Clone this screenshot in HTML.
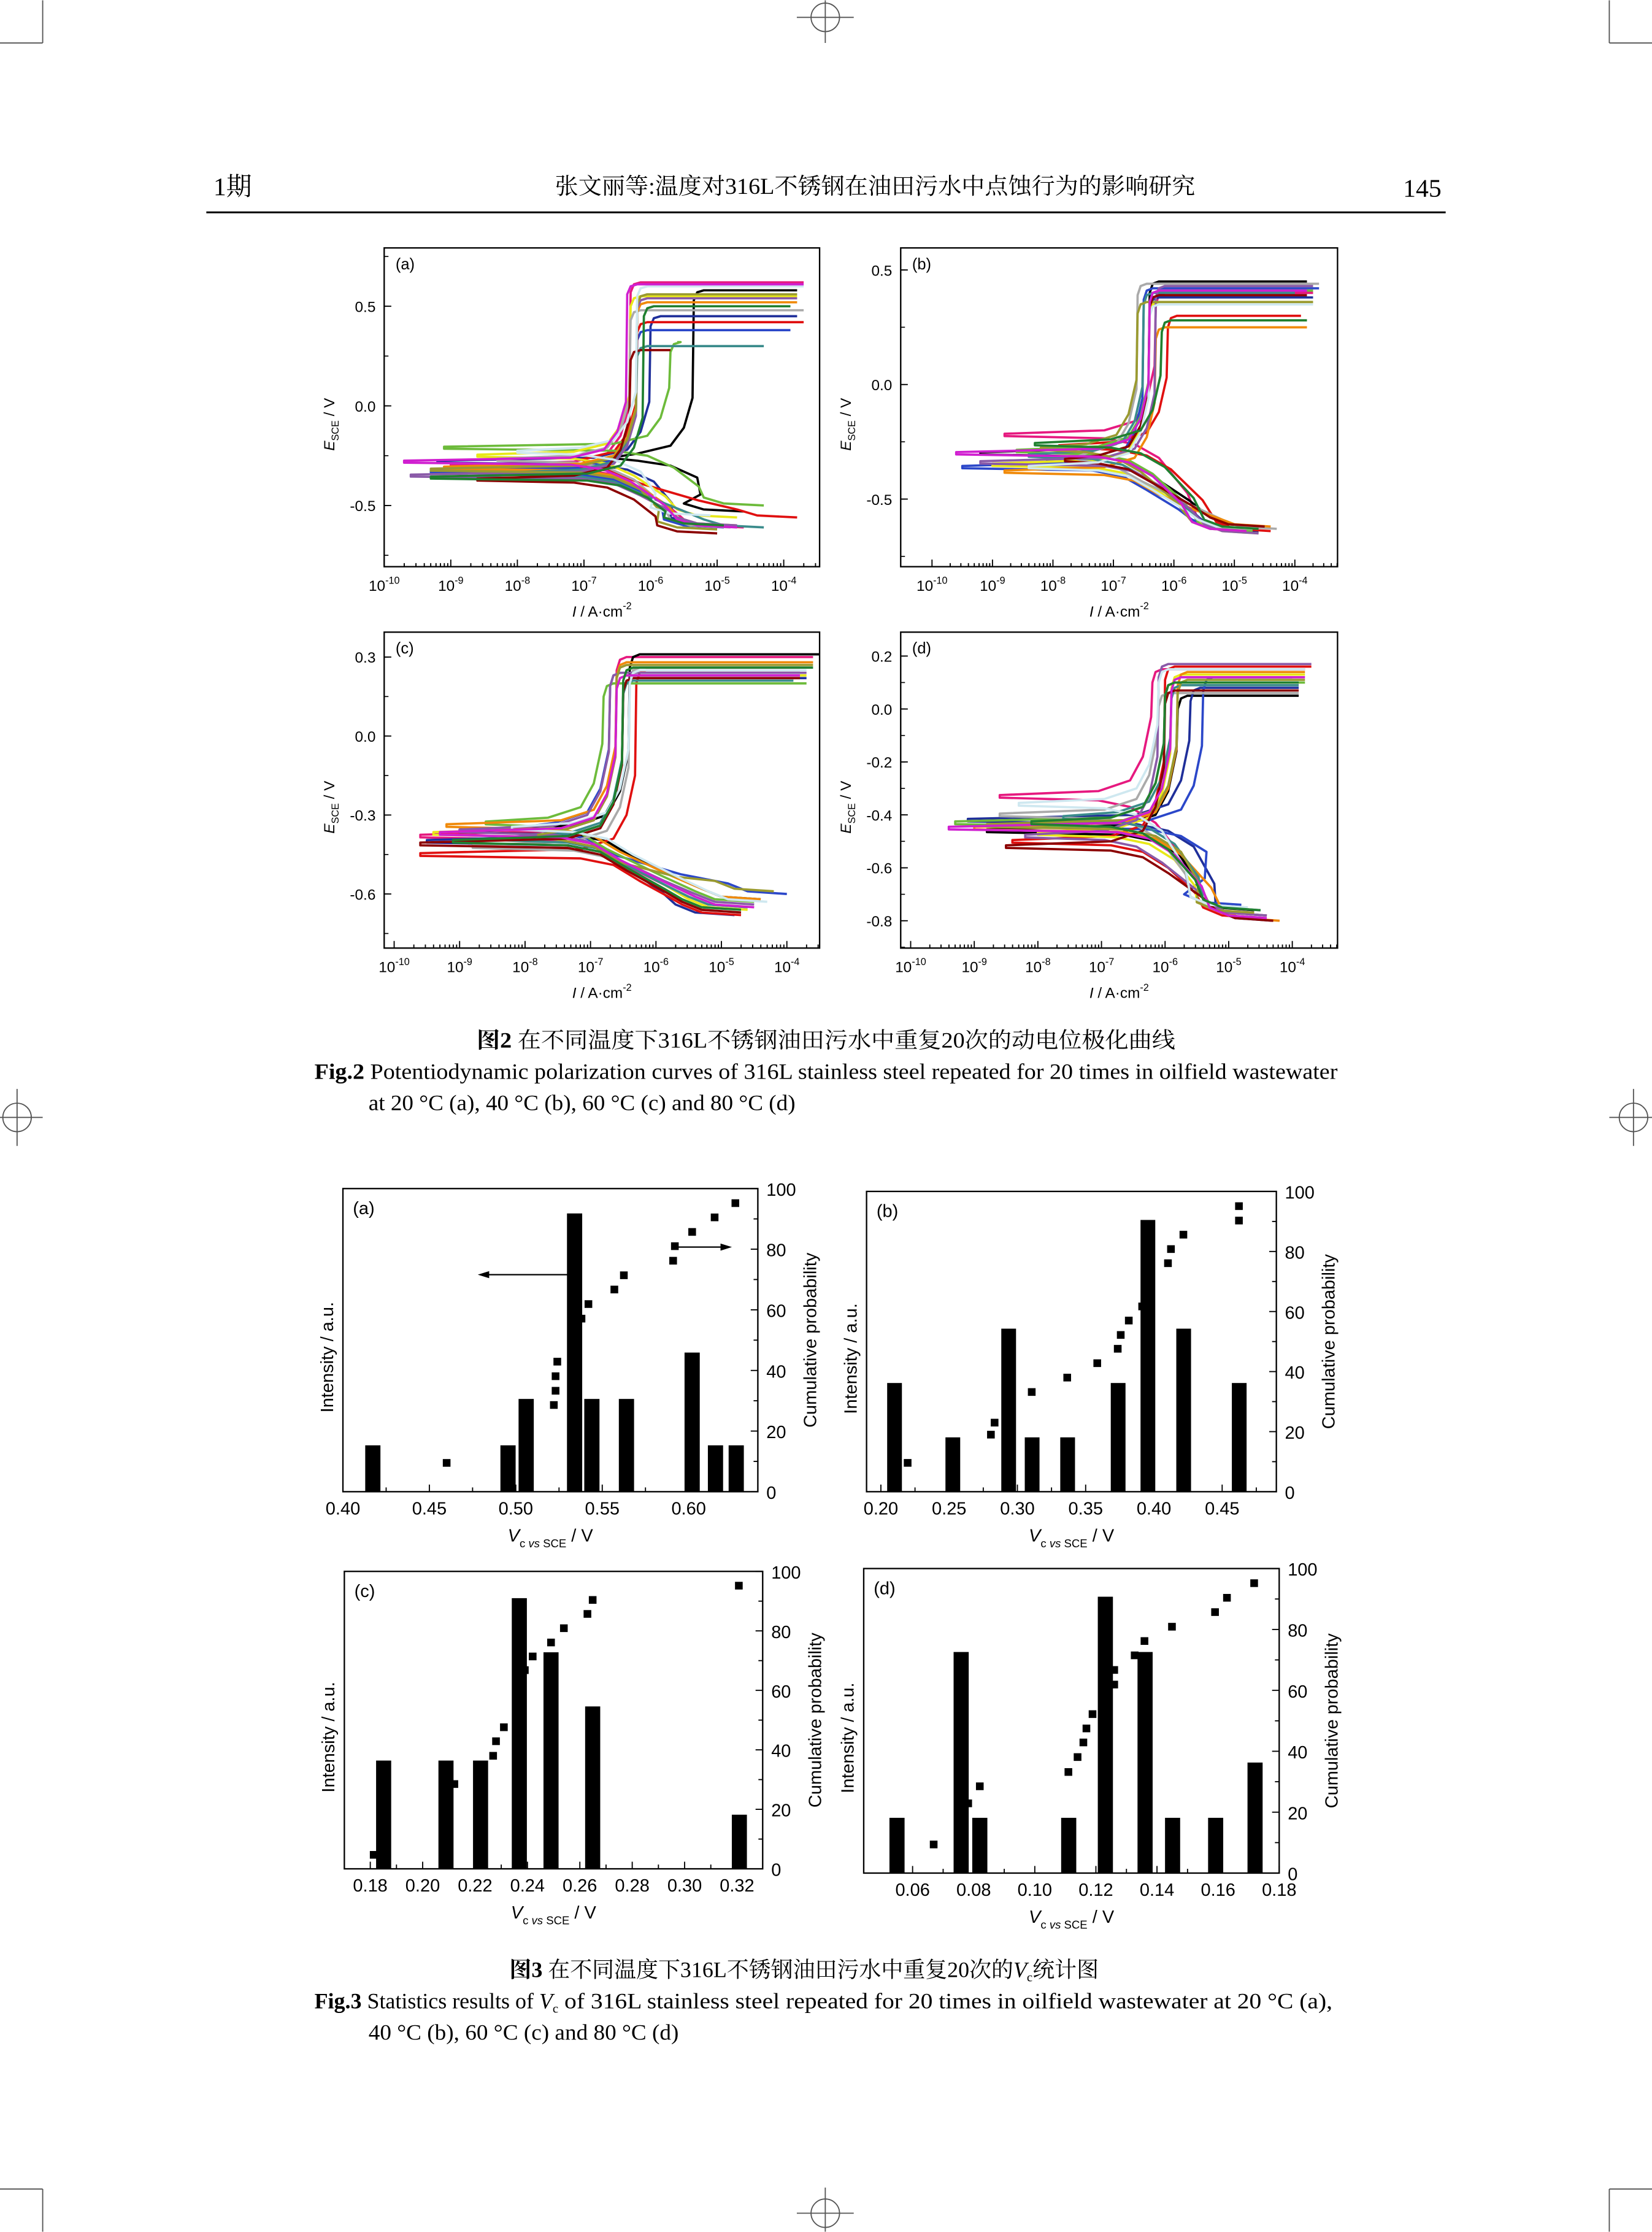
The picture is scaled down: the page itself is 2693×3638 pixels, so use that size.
<!DOCTYPE html>
<html><head><meta charset="utf-8"><style>
html,body{margin:0;padding:0;background:#fff}
svg{display:block}
.s{font-family:"Liberation Sans",sans-serif}
.r{font-family:"Liberation Serif","Noto Serif CJK SC",serif}
</style></head><body>
<svg id="pg" xmlns="http://www.w3.org/2000/svg" width="2693" height="3638" viewBox="0 0 1161 1568">
<g id="marks" stroke="#555" stroke-width="0.8" fill="none">
<line x1="30" y1="0" x2="30" y2="30"/><line x1="0" y1="30" x2="30" y2="30"/>
<line x1="1131" y1="0" x2="1131" y2="30"/><line x1="1131" y1="30" x2="1161" y2="30"/>
<line x1="30" y1="1538" x2="30" y2="1568"/><line x1="0" y1="1538" x2="30" y2="1538"/>
<line x1="1131" y1="1538" x2="1131" y2="1568"/><line x1="1131" y1="1538" x2="1161" y2="1538"/>
<circle cx="580" cy="12" r="10"/><line x1="560" y1="12" x2="600" y2="12"/><line x1="580" y1="0" x2="580" y2="30"/>
<circle cx="580" cy="1555" r="10"/><line x1="560" y1="1555" x2="600" y2="1555"/><line x1="580" y1="1537" x2="580" y2="1568"/>
<circle cx="12" cy="785" r="10"/><line x1="0" y1="785" x2="30" y2="785"/><line x1="12" y1="765" x2="12" y2="805"/>
<circle cx="1148" cy="785" r="10"/><line x1="1131" y1="785" x2="1161" y2="785"/><line x1="1148" y1="765" x2="1148" y2="805"/>
</g>
<text class="r" x="150" y="137" font-size="18">1期</text>
<text class="r" x="390" y="136" font-size="16" textLength="450" lengthAdjust="spacingAndGlyphs">张文丽等:温度对316L不锈钢在油田污水中点蚀行为的影响研究</text>
<text class="r" x="1013" y="138" font-size="18" text-anchor="end">145</text>
<line x1="145" y1="149" x2="1016" y2="149" stroke="#000" stroke-width="1.3"/>
<g id="fig2"></g>
<g id="fig3"></g>
<text class="r" x="335" y="736" font-size="15.5" textLength="491" lengthAdjust="spacingAndGlyphs"><tspan font-weight="bold">图2</tspan> 在不同温度下316L不锈钢油田污水中重复20次的动电位极化曲线</text>
<text class="r" x="221" y="758" font-size="15.5" textLength="719" lengthAdjust="spacingAndGlyphs"><tspan font-weight="bold">Fig.2</tspan> Potentiodynamic polarization curves of 316L stainless steel repeated for 20 times in oilfield wastewater</text>
<text class="r" x="259" y="780" font-size="15.5" textLength="300" lengthAdjust="spacingAndGlyphs">at 20 °C (a), 40 °C (b), 60 °C (c) and 80 °C (d)</text>
<text class="r" x="358" y="1389" font-size="15.5"><tspan font-weight="bold">图3</tspan> 在不同温度下316L不锈钢油田污水中重复20次的<tspan font-style="italic">V</tspan><tspan font-size="9" dy="3">c</tspan><tspan dy="-3">统计图</tspan></text>
<text class="r" x="221" y="1411" font-size="15.5"><tspan font-weight="bold">Fig.3</tspan> Statistics results of <tspan font-style="italic">V</tspan><tspan font-size="9" dy="3">c</tspan><tspan dy="-3" textLength="544" lengthAdjust="spacingAndGlyphs"> of 316L stainless steel repeated for 20 times in oilfield wastewater at 20 °C (a),</tspan></text>
<text class="r" x="259" y="1433" font-size="15.5" textLength="218" lengthAdjust="spacingAndGlyphs">40 °C (b), 60 °C (c) and 80 °C (d)</text>
</svg>
<script>
// ===== Figure 2 data (per-curve parameters) =====
const colors=["#e6197f","#000000","#1f2f9a","#2b47c9","#e01010","#6dbb3b","#e8e81a","#aaaaaa","#f08a0a","#3b8c8c","#8a5aa8","#9a9a30","#8b0000","#cfe8f0","#d01fd0","#208030"];
const aEcorr=[-0.30,-0.26,-0.28,-0.33,-0.29,-0.21,-0.25,-0.27,-0.31,-0.34,-0.35,-0.32,-0.37,-0.23,-0.28,-0.36];
const aEpit=[0.62,0.58,0.45,0.38,0.42,0.32,0.55,0.48,0.52,0.30,0.54,0.56,0.28,0.60,0.61,0.50];
const aIpass=[-6.3,-5.35,-6.0,-6.2,-6.2,-5.7,-6.3,-6.3,-6.2,-6.2,-6.2,-6.2,-6.3,-6.2,-6.35,-6.1];
const aImax=[-3.7,-3.8,-3.8,-3.9,-3.7,-5.6,-3.8,-3.7,-3.8,-4.3,-3.8,-3.8,-5.7,-3.7,-3.7,-3.9];
const aImin=[-9.0,-6.5,-9.2,-9.3,-6.9,-9.1,-8.6,-8.3,-9.1,-8.2,-9.6,-9.3,-8.6,-8.0,-9.7,-9.3];
const aEmin=[-0.61,-0.53,-0.60,-0.61,-0.56,-0.50,-0.56,-0.61,-0.60,-0.61,-0.60,-0.62,-0.64,-0.55,-0.61,-0.60];
const aIlim=[-5.2,-5.2,-5.4,-5.5,-4.4,-4.9,-5.3,-5.4,-5.3,-4.9,-5.3,-5.6,-5.6,-5.7,-5.3,-5.5];
const bEcorr=[-0.22,-0.30,-0.33,-0.36,-0.27,-0.29,-0.35,-0.32,-0.38,-0.31,-0.34,-0.28,-0.33,-0.36,-0.30,-0.26];
const bEpit=[0.40,0.45,0.38,0.42,0.30,0.41,0.36,0.44,0.25,0.40,0.43,0.36,0.39,0.35,0.41,0.28];
const bIpass=[-6.3,-6.4,-6.4,-6.5,-6.1,-6.4,-6.4,-6.6,-6.3,-6.5,-6.3,-6.6,-6.4,-6.4,-6.4,-6.2];
const bImax=[-3.7,-3.8,-3.7,-3.6,-3.9,-3.7,-3.7,-3.6,-3.8,-4.0,-3.7,-3.7,-3.8,-3.7,-3.8,-3.8];
const bImin=[-8.8,-9.2,-8.1,-9.5,-7.9,-8.6,-9.0,-7.6,-8.8,-8.4,-9.2,-8.2,-7.8,-8.4,-9.6,-8.3];
const bEmin=[-0.63,-0.62,-0.64,-0.63,-0.64,-0.64,-0.65,-0.63,-0.62,-0.63,-0.65,-0.64,-0.62,-0.63,-0.64,-0.63];
const bIlim=[-5.3,-5.1,-5.2,-5.4,-5.0,-5.3,-5.2,-4.9,-5.0,-5.3,-5.2,-5.4,-5.1,-5.3,-5.4,-5.2];
const cEcorr=[-0.38,-0.36,-0.40,-0.35,-0.45,-0.33,-0.37,-0.42,-0.34,-0.39,-0.36,-0.38,-0.41,-0.35,-0.37,-0.40];
const cEpit=[0.30,0.31,0.22,0.24,0.25,0.20,0.23,0.26,0.28,0.21,0.24,0.27,0.22,0.25,0.23,0.26];
const cIpass=[-6.6,-6.4,-6.5,-6.7,-6.3,-6.8,-6.6,-6.4,-6.6,-6.5,-6.7,-6.6,-6.5,-6.4,-6.6,-6.5];
const cImax=[-3.6,-3.5,-3.7,-3.8,-3.8,-3.7,-3.7,-3.8,-3.6,-3.9,-3.7,-3.6,-3.8,-3.7,-3.8,-3.6];
const cImin=[-9.6,-9.0,-9.5,-8.0,-9.6,-8.6,-9.4,-8.8,-9.2,-8.4,-9.0,-7.8,-9.6,-8.2,-9.3,-9.1];
const cEmin=[-0.65,-0.62,-0.68,-0.60,-0.68,-0.63,-0.66,-0.67,-0.62,-0.65,-0.64,-0.59,-0.67,-0.63,-0.65,-0.66];
const cIlim=[-5.2,-5.0,-5.4,-4.6,-5.3,-5.1,-5.2,-5.3,-5.0,-5.2,-5.1,-4.8,-5.3,-4.9,-5.1,-5.3];
const dEcorr=[-0.33,-0.46,-0.42,-0.44,-0.50,-0.43,-0.47,-0.40,-0.45,-0.41,-0.48,-0.44,-0.52,-0.36,-0.45,-0.43];
const dEpit=[0.15,0.05,0.08,0.12,0.16,0.10,0.13,0.06,0.14,0.09,0.17,0.11,0.07,0.15,0.12,0.10];
const dIpass=[-6.2,-5.8,-5.6,-5.4,-6.0,-6.0,-5.9,-6.1,-5.8,-5.9,-6.1,-5.8,-6.0,-6.1,-5.9,-6.0];
const dImax=[-3.8,-3.9,-3.9,-4.0,-3.7,-3.8,-3.8,-3.9,-3.8,-3.9,-3.7,-3.8,-3.9,-3.8,-3.8,-3.9];
const dImin=[-8.6,-8.8,-9.1,-7.8,-8.4,-9.3,-8.0,-8.6,-9.0,-7.6,-8.2,-8.8,-8.5,-8.3,-9.4,-8.1];
const dEmin=[-0.78,-0.76,-0.80,-0.74,-0.79,-0.78,-0.77,-0.75,-0.80,-0.76,-0.78,-0.77,-0.80,-0.75,-0.79,-0.76];
const dIlim=[-5.0,-5.2,-4.9,-5.4,-5.1,-5.0,-5.2,-5.3,-4.8,-5.1,-5.0,-5.2,-4.9,-5.3,-5.0,-5.1];
const xTickExp=[-10,-9,-8,-7,-6,-5,-4];
// ===== Figure 3 data =====
const aBarV=[0.4173,0.4955,0.506,0.534,0.544,0.564,0.602,0.6155,0.6275];
const aBarN=[1,1,2,6,2,2,3,1,1];
const aPtV=[0.460,0.522,0.523,0.523,0.524,0.538,0.542,0.557,0.5625,0.591,0.592,0.602,0.615,0.627];
const aPtP=[9.5,28.6,33.3,38.1,42.9,57.1,61.9,66.7,71.4,76.2,81.0,85.7,90.5,95.2];
const bBarV=[0.210,0.2527,0.2936,0.3108,0.3368,0.3738,0.3956,0.4218,0.4625];
const bBarN=[2,1,3,1,1,2,5,3,2];
const bPtV=[0.2196,0.2806,0.2833,0.3105,0.3365,0.3585,0.3735,0.3757,0.3816,0.3914,0.4103,0.4125,0.4216,0.4623,0.4623];
const bPtP=[9.6,19.0,23.0,33.2,38.0,42.8,47.6,52.2,57.0,61.7,76.1,80.8,85.6,90.3,95.1];
const cBarV=[0.1851,0.2089,0.2221,0.2369,0.2490,0.2649,0.3209];
const cBarN=[2,2,2,5,4,3,1];
const cPtV=[0.1813,0.2121,0.2269,0.2280,0.2310,0.2390,0.2420,0.2490,0.2539,0.2629,0.2649,0.3207];
const cPtP=[4.7,28.5,38.0,42.9,47.6,66.8,71.4,76.1,80.9,85.7,90.4,95.2];
const dBarV=[0.0549,0.0759,0.0820,0.1111,0.1231,0.1361,0.1451,0.1592,0.1721];
const dBarN=[1,4,1,1,5,4,1,1,2];
const dPtV=[0.0669,0.0782,0.0820,0.1110,0.1140,0.1159,0.1169,0.1189,0.1260,0.1260,0.1327,0.1359,0.1449,0.1590,0.1629,0.1718];
const dPtP=[9.4,22.9,28.5,33.2,38.1,42.9,47.5,52.2,61.9,66.7,71.5,76.2,80.9,85.7,90.4,95.2];

const NS="http://www.w3.org/2000/svg";
function mk(tag,attrs,parent){const e=document.createElementNS(NS,tag);for(const k in attrs)e.setAttribute(k,attrs[k]);if(parent)parent.appendChild(e);return e;}

const fig2=document.getElementById('fig2');
function polPanel(cfg,d){
  const g=mk('g',{},fig2);
  
  
  const X=e=>cfg.lx+(e+10)*cfg.dec;
  const Y=v=>cfg.e0-v*cfg.pv;
  const clip='clip'+cfg.tag;
  const cp=mk('clipPath',{id:clip},g);mk('rect',{x:cfg.x0,y:cfg.y0,width:cfg.x1-cfg.x0,height:cfg.y1-cfg.y0},cp);
  const cg=mk('g',{'clip-path':'url(#'+clip+')'},g);
  for(let k=0;k<d.ec.length;k++){
    const ec=d.ec[k],ep=d.ep[k],ip=d.ip[k],im=d.im[k],mn=d.mn[k],em=d.em[k],il=d.il[k];
    const ic=ip-0.35;
    const pts=[[im,ep],[ip+0.15,ep],[ip+0.05,ep-0.01],[ip,ep-0.05],[ip-0.02,ec+0.3],[ip-0.15,ec+0.15],[ic,ec+0.06],[ic-0.5,ec+0.02],[mn,ec+0.005],[mn,ec-0.005],[ic-0.5,ec-0.015],[ic,ec-0.04],[ic+0.4,ec-0.1],[(ic+il)/2+0.2,(ec+em)/2-0.05],[il-0.3,em+0.04],[il,em+0.01],[il+0.6,em]];
    const p=mk('polyline',{points:pts.map(q=>X(q[0]).toFixed(1)+','+Y(q[1]).toFixed(1)).join(' '),fill:'none',stroke:colors[k%colors.length],'stroke-width':'1.6','stroke-linejoin':'round'},cg);
    
    
  }
  const fr=mk('rect',{x:cfg.x0,y:cfg.y0,width:cfg.x1-cfg.x0,height:cfg.y1-cfg.y0,fill:'none',stroke:'#000','stroke-width':'1'},g);
  
  
  for(let e=-10;e<=-3;e++){
    for(let m=1;m<10;m++){
      const xx=X(e+Math.log10(m));
      if(xx<cfg.x0-0.5||xx>cfg.x1)continue;
      const len=m===1?5:2.5;
      mk('line',{x1:xx,y1:cfg.y1,x2:xx,y2:cfg.y1-len,stroke:'#000','stroke-width':'0.8'},g);
    }
  }
  xTickExp.forEach(e=>{
    const t=mk('text',{x:X(e),y:cfg.y1+17,'font-size':'10.5','text-anchor':'middle',class:'s'},g);
    
    
    t.textContent='10';
    const s=mk('tspan',{'font-size':'7',dy:'-5'},t);s.textContent=String(e);
  });
  cfg.ticks.forEach(v=>{
    mk('line',{x1:cfg.x0,y1:Y(v),x2:cfg.x0+5,y2:Y(v),stroke:'#000','stroke-width':'0.8'},g);
    const t=mk('text',{x:cfg.x0-6,y:Y(v)+4,'font-size':'10.5','text-anchor':'end',class:'s'},g);
    
    
    t.textContent=v.toFixed(1);
  });
  for(let v=cfg.ticks[0]-cfg.step/2;v<cfg.ticks[cfg.ticks.length-1]+cfg.step;v+=cfg.step/2){
    const yy=Y(v);if(yy<cfg.y0||yy>cfg.y1)continue;
    mk('line',{x1:cfg.x0,y1:yy,x2:cfg.x0+3,y2:yy,stroke:'#000','stroke-width':'0.7'},g);
  }
  const pl=mk('text',{x:cfg.x0+8,y:cfg.y0+15,'font-size':'11',class:'s'},g);
  
  
  pl.textContent='('+cfg.tag+')';
  const cx=(cfg.x0+cfg.x1)/2;
  const xl=mk('text',{x:cx,y:cfg.y1+35,'font-size':'10.5','text-anchor':'middle',class:'s'},g);
  
  
  xl.innerHTML='<tspan font-style="italic">I</tspan> / A·cm<tspan font-size="7" dy="-5">-2</tspan>';
  const cy=(cfg.y0+cfg.y1)/2+12;
  const yl=mk('text',{x:0,y:0,'font-size':'10.5','text-anchor':'middle',class:'s',transform:'translate('+(cfg.x0-35)+','+cy+') rotate(-90)'},g);
  
  
  yl.innerHTML='<tspan font-style="italic">E</tspan><tspan font-size="7" dy="3">SCE</tspan><tspan dy="-3"> / V</tspan>';
}
polPanel({tag:'a',x0:270,x1:576,y0:174,y1:398,lx:270,dec:46.8,e0:285,pv:140,ticks:[-0.5,0,0.5],step:0.5},{ec:aEcorr,ep:aEpit,ip:aIpass,im:aImax,mn:aImin,em:aEmin,il:aIlim});
polPanel({tag:'b',x0:633,x1:940,y0:174,y1:398,lx:655,dec:42.5,e0:270,pv:161,ticks:[-0.5,0,0.5],step:0.5},{ec:bEcorr,ep:bEpit,ip:bIpass,im:bImax,mn:bImin,em:bEmin,il:bIlim});
polPanel({tag:'c',x0:270,x1:576,y0:444,y1:666,lx:277,dec:46,e0:517,pv:185,ticks:[-0.6,-0.3,0,0.3],step:0.3},{ec:cEcorr,ep:cEpit,ip:cIpass,im:cImax,mn:cImin,em:cEmin,il:cIlim});
polPanel({tag:'d',x0:633,x1:940,y0:444,y1:666,lx:640,dec:44.7,e0:498,pv:186,ticks:[-0.8,-0.6,-0.4,-0.2,0,0.2],step:0.2},{ec:dEcorr,ep:dEpit,ip:dIpass,im:dImax,mn:dImin,em:dEmin,il:dIlim});

const fig3=document.getElementById('fig3');
function histPanel(cfg,barV,barN,ptV,ptP){
  const g=mk('g',{},fig3);
  
  
  const X=v=>cfg.x0+(v-cfg.vmin)/(cfg.vmax-cfg.vmin)*(cfg.x1-cfg.x0);
  const Y=p=>cfg.y1-p/100*(cfg.y1-cfg.y0);
  const bw=cfg.bw*(cfg.x1-cfg.x0)/(cfg.vmax-cfg.vmin);
  barV.forEach((v,i)=>{
    const top=Y(barN[i]*cfg.unit);
    const r=mk('rect',{x:X(v)-bw/2,y:top,width:bw,height:cfg.y1-top,fill:'#000'},g);
    
    
  });
  ptV.forEach((v,i)=>{
    const r=mk('rect',{x:X(v)-2.7,y:Y(ptP[i])-2.7,width:5.4,height:5.4,fill:'#000'},g);
    
    
  });
  const fr=mk('rect',{x:cfg.x0,y:cfg.y0,width:cfg.x1-cfg.x0,height:cfg.y1-cfg.y0,fill:'none',stroke:'#000','stroke-width':'1'},g);
  
  
  cfg.xt.forEach(v=>{
    mk('line',{x1:X(v),y1:cfg.y1,x2:X(v),y2:cfg.y1-5,stroke:'#000','stroke-width':'0.8'},g);
    const mv=v+cfg.xs/2;
    if(X(mv)<cfg.x1-1)mk('line',{x1:X(mv),y1:cfg.y1,x2:X(mv),y2:cfg.y1-3,stroke:'#000','stroke-width':'0.8'},g);
    const t=mk('text',{x:X(v),y:cfg.y1+16,'font-size':'12.5','text-anchor':'middle',class:'s'},g);
    
    
    t.textContent=v.toFixed(2);
  });
  for(let p=0;p<=100;p+=10){
    mk('line',{x1:cfg.x1,y1:Y(p),x2:cfg.x1-(p%20===0?5:3),y2:Y(p),stroke:'#000','stroke-width':'0.8'},g);
    if(p%20===0){
      const t=mk('text',{x:cfg.x1+6,y:Y(p)+5,'font-size':'12.5',class:'s'},g);
      
      
      t.textContent=String(p);
    }
  }
  const pl=mk('text',{x:cfg.x0+7,y:cfg.y0+18,'font-size':'12.5',class:'s'},g);
  
  
  pl.textContent='('+cfg.tag+')';
  const cx=(cfg.x0+cfg.x1)/2;
  const xl=mk('text',{x:cx,y:cfg.y1+35,'font-size':'12.5','text-anchor':'middle',class:'s'},g);
  
  
  xl.innerHTML='<tspan font-style="italic">V</tspan><tspan font-size="8" dy="4">c </tspan><tspan font-size="8" font-style="italic">vs</tspan><tspan font-size="8"> SCE</tspan><tspan dy="-4"> / V</tspan>';
  const cy=(cfg.y0+cfg.y1)/2+12;
  const yl=mk('text',{x:0,y:0,'font-size':'12.5','text-anchor':'middle',class:'s',transform:'translate('+(cfg.x0-7)+','+cy+') rotate(-90)'},g);
  
  
  yl.textContent='Intensity / a.u.';
  const yr=mk('text',{x:0,y:0,'font-size':'12.5','text-anchor':'middle',class:'s',transform:'translate('+(cfg.x1+41)+','+(cfg.y0+cfg.y1)/2+') rotate(-90)'},g);
  
  
  yr.textContent='Cumulative probability';
  if(cfg.arrows){
    const a=cfg.arrows;
    const l1=mk('line',{x1:X(a[0]),y1:Y(a[1]),x2:X(a[2])+6,y2:Y(a[1]),stroke:'#000','stroke-width':'1'},g);
    
    
    mk('polygon',{points:(X(a[2]))+','+Y(a[1])+' '+(X(a[2])+8)+','+(Y(a[1])-2.5)+' '+(X(a[2])+8)+','+(Y(a[1])+2.5),fill:'#000'},g);
    const l2=mk('line',{x1:X(a[3]),y1:Y(a[4]),x2:X(a[5])-6,y2:Y(a[4]),stroke:'#000','stroke-width':'1'},g);
    
    
    mk('polygon',{points:(X(a[5]))+','+Y(a[4])+' '+(X(a[5])-8)+','+(Y(a[4])-2.5)+' '+(X(a[5])-8)+','+(Y(a[4])+2.5),fill:'#000'},g);
  }
}
histPanel({tag:'a',x0:241,x1:532.6,y0:835,y1:1048,vmin:0.40,vmax:0.64,bw:0.0088,unit:15.3,xt:[0.40,0.45,0.50,0.55,0.60],xs:0.05,arrows:[0.534,71.6,0.478,0.594,80.7,0.625]},aBarV,aBarN,aPtV,aPtP);
histPanel({tag:'b',x0:609,x1:897,y0:837,y1:1048,vmin:0.1895,vmax:0.4897,bw:0.0108,unit:18.1,xt:[0.20,0.25,0.30,0.35,0.40,0.45],xs:0.05},bBarV,bBarN,bPtV,bPtP);
histPanel({tag:'c',x0:242,x1:536,y0:1104,y1:1313,vmin:0.1701,vmax:0.3298,bw:0.00576,unit:18.2,xt:[0.18,0.20,0.22,0.24,0.26,0.28,0.30,0.32],xs:0.02},cBarV,cBarN,cPtV,cPtP);
histPanel({tag:'d',x0:607,x1:899,y0:1102,y1:1316,vmin:0.044,vmax:0.18,bw:0.00495,unit:18.15,xt:[0.06,0.08,0.10,0.12,0.14,0.16,0.18],xs:0.02},dBarV,dBarN,dPtV,dPtP);
</script>
</body></html>
